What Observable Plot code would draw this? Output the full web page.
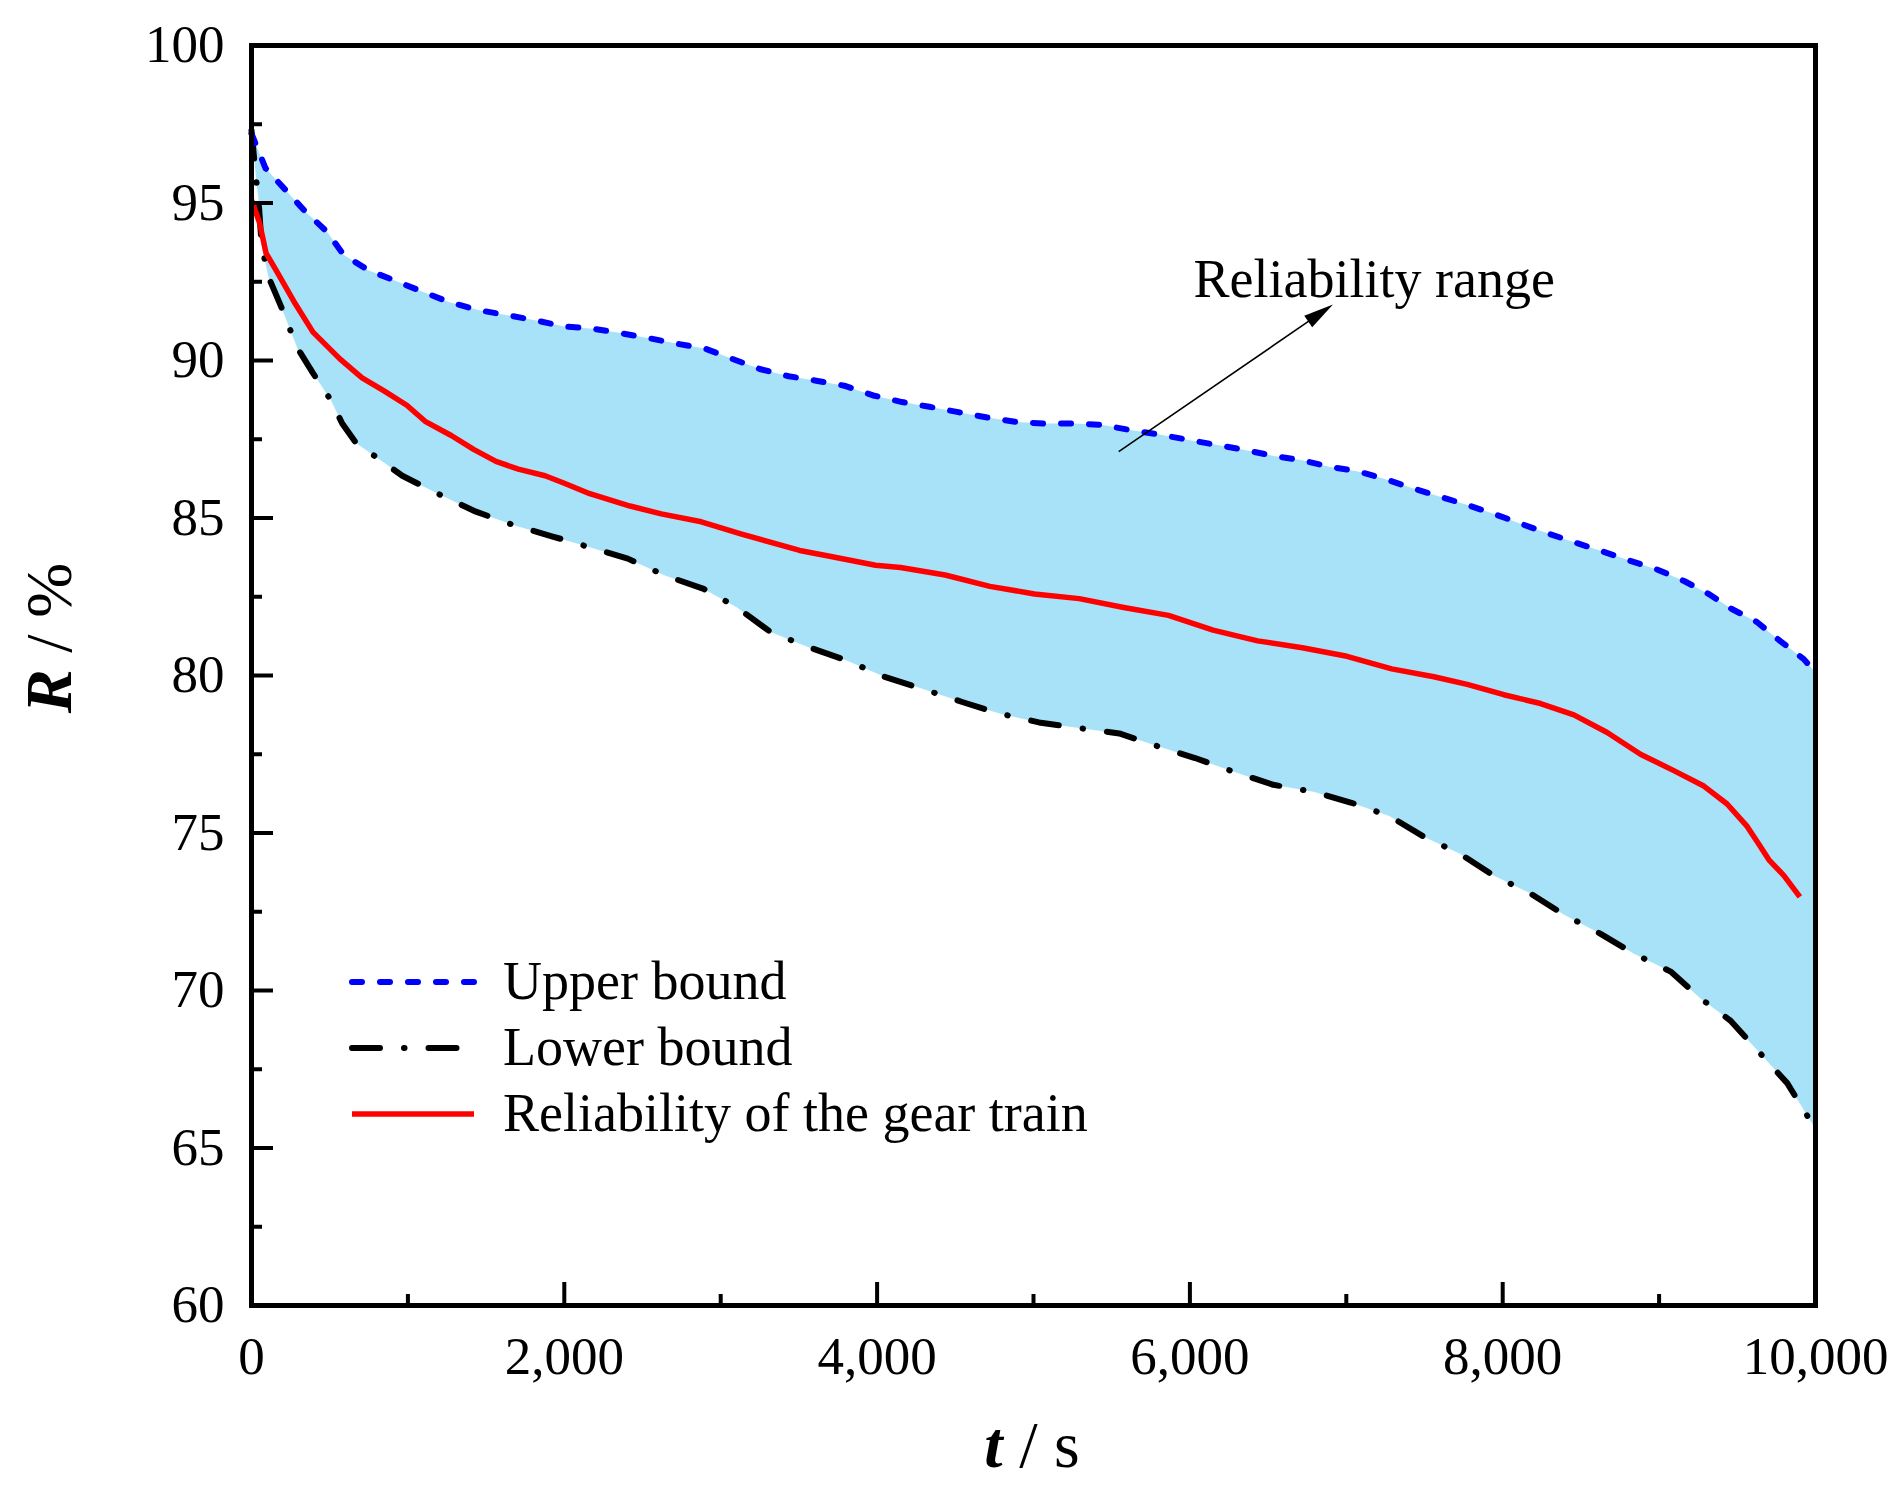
<!DOCTYPE html>
<html>
<head>
<meta charset="utf-8">
<script src="https://cdn.jsdelivr.net/npm/d3@7"></script>
<script src="https://cdn.jsdelivr.net/npm/@observablehq/plot@0.6"></script>
<style>
  body { margin: 0; background: #fff; }
  #chart svg { display: block; }
</style>
</head>
<body>
<div id="chart"></div>
<script>
// values (t in s, R in %)
const upperT = [0, 90, 220, 340, 480, 590, 750, 920, 1090, 1260, 1450, 1635, 1820, 2000, 2180, 2360, 2550, 2735, 2905, 3075,
  3250, 3435, 3620, 3790, 3975, 4160, 4335, 4520, 4705, 4890, 5065, 5250, 5435, 5620, 5805, 5990, 6160, 6350, 6535, 6720,
  6890, 7075, 7245, 7420, 7605, 7775, 7945, 8115, 8295, 8470, 8645, 8815, 8990, 9160, 9320, 9465, 9625, 9775, 9925, 10000];
const upperR = [97.2, 96.1, 95.4, 94.75, 94.1, 93.35, 92.86, 92.53, 92.19, 91.86, 91.6, 91.44, 91.27, 91.08, 91.01, 90.87, 90.7, 90.52, 90.37, 90.05,
  89.73, 89.5, 89.35, 89.2, 88.89, 88.68, 88.53, 88.36, 88.19, 88.05, 88.0, 88.0, 87.96, 87.79, 87.65, 87.48, 87.33, 87.16, 86.97, 86.83,
  86.63, 86.48, 86.24, 85.95, 85.67, 85.41, 85.13, 84.82, 84.5, 84.21, 83.93, 83.64, 83.36, 83.0, 82.58, 82.11, 81.7, 81.09, 80.52, 80.1];

const lowerT = [0, 28, 45, 65, 108, 190, 293, 393, 508, 580, 670, 822, 964, 1192, 1435, 1678, 1920, 2163, 2406, 2648,
  2891, 3105, 3319, 3562, 3805, 4047, 4275, 4549, 4778, 5035, 5292, 5548, 5791, 6033, 6276, 6533, 6790, 7033, 7275, 7489,
  7730, 7945, 8170, 8395, 8626, 8839, 9074, 9265, 9457, 9638, 9819, 10000];
const lowerR = [97.3, 95.84, 95.1, 93.65, 92.66, 91.7, 90.4, 89.6, 88.74, 88.0, 87.37, 86.85, 86.34, 85.77, 85.2, 84.77, 84.42, 84.07, 83.71, 83.17,
  82.75, 82.16, 81.38, 80.9, 80.48, 79.96, 79.6, 79.15, 78.8, 78.51, 78.33, 78.16, 77.76, 77.38, 76.95, 76.53, 76.31, 75.96, 75.54, 74.9,
  74.33, 73.64, 73.1, 72.4, 71.8, 71.17, 70.6, 69.75, 69.04, 68.05, 67.06, 65.6];

const relT = [0, 51, 93, 165, 280, 393, 565, 707, 850, 993, 1110, 1280, 1420, 1563, 1706, 1877, 1992, 2163, 2420, 2620,
  2876, 3134, 3505, 3705, 3990, 4150, 4435, 4721, 5006, 5292, 5577, 5863, 6148, 6433, 6719, 7004, 7290, 7560, 7773, 8007,
  8242, 8455, 8668, 8881, 9094, 9286, 9435, 9563, 9638, 9702, 9798, 9900];
const relR = [95.1, 94.38, 93.41, 92.8, 91.8, 90.9, 90.05, 89.45, 89.03, 88.58, 88.07, 87.61, 87.18, 86.8, 86.55, 86.34, 86.12, 85.77, 85.38, 85.13,
  84.88, 84.49, 83.97, 83.78, 83.5, 83.43, 83.19, 82.83, 82.59, 82.44, 82.16, 81.91, 81.44, 81.1, 80.88, 80.61, 80.21, 79.96, 79.72, 79.39,
  79.11, 78.75, 78.19, 77.5, 76.98, 76.49, 75.92, 75.21, 74.64, 74.15, 73.65, 72.97];

const xMajor = [0, 2000, 4000, 6000, 8000, 10000];
const xMinor = [1000, 3000, 5000, 7000, 9000];
const yMajor = [60, 65, 70, 75, 80, 85, 90, 95, 100];
const yMinor = [62.5, 67.5, 72.5, 77.5, 82.5, 87.5, 92.5, 97.5];

const legendLabels = ["Upper bound", "Lower bound", "Reliability of the gear train"];
const annotationLabel = "Reliability range";
const annotationAt = {t: 6023, r: 92.03};
const arrowFrom = {t: 5548, r: 87.09};
const arrowTo = {t: 6918, r: 91.76};

// layout
const W = 1895, H = 1499;
const mL = 251, mR = 80, mT = 45, mB = 194;
const plotW = W - mL - mR, plotH = H - mT - mB;
const font = "'Liberation Serif', 'Times New Roman', serif";

const toPoints = (ts, rs) => ts.map((t, i) => ({t, r: rs[i]}));
const upper = toPoints(upperT, upperR);
const lower = toPoints(lowerT, lowerR);
const rel = toPoints(relT, relR);
const band = upper.concat(lower.slice().reverse());

const styles = [
  {stroke: "#0000ff", strokeWidth: 6, strokeDasharray: "10,18", strokeLinecap: "round"},
  {stroke: "#000000", strokeWidth: 6, strokeDasharray: "28,24,0.5,24", strokeLinecap: "round"},
  {stroke: "#ff0000", strokeWidth: 5.5, strokeLinecap: "butt"}
];

const chart = Plot.plot({
  width: W,
  height: H,
  marginLeft: mL,
  marginRight: mR,
  marginTop: mT,
  marginBottom: mB,
  style: {fontFamily: font, background: "white", color: "black", overflow: "visible"},
  x: {domain: [0, 10000], axis: null},
  y: {domain: [60, 100], axis: null},
  marks: [
    Plot.line(band, {x: "t", y: "r", fill: "#a7e2f8", stroke: "none"}),
    Plot.line(lower, {x: "t", y: "r", ...styles[1], strokeLinejoin: "round"}),
    Plot.line(upper, {x: "t", y: "r", ...styles[0], strokeLinejoin: "round"}),
    Plot.line(rel, {x: "t", y: "r", ...styles[2], strokeLinejoin: "round"}),
    Plot.tickX(xMajor, {x: d => d, stroke: "black", strokeWidth: 4, insetTop: plotH - 23}),
    Plot.tickX(xMinor, {x: d => d, stroke: "black", strokeWidth: 4, insetTop: plotH - 11}),
    Plot.tickY(yMajor, {y: d => d, stroke: "black", strokeWidth: 4, insetRight: plotW - 22}),
    Plot.tickY(yMinor, {y: d => d, stroke: "black", strokeWidth: 4, insetRight: plotW - 11}),
    Plot.frame({stroke: "black", strokeWidth: 5}),
    Plot.text(xMajor, {x: d => d, frameAnchor: "bottom", lineAnchor: "top", dy: 31,
      text: d => d3.format(",")(d), fontSize: 53}),
    Plot.text(yMajor, {y: d => d, frameAnchor: "left", textAnchor: "end", dx: -27,
      text: d => String(d), fontSize: 53}),
    Plot.text([annotationAt], {x: "t", y: "r", text: () => annotationLabel, textAnchor: "start",
      lineAnchor: "bottom", fontSize: 54})
  ]
});

const svg = d3.select(chart);
const sx = chart.scale("x"), sy = chart.scale("y");

// arrow with a filled head
const x0 = sx.apply(arrowFrom.t), y0 = sy.apply(arrowFrom.r);
const x1 = sx.apply(arrowTo.t), y1 = sy.apply(arrowTo.r);
const len = Math.hypot(x1 - x0, y1 - y0);
const ux = (x1 - x0) / len, uy = (y1 - y0) / len;
const headL = 30, headW = 7;
const bx = x1 - ux * headL, by = y1 - uy * headL;
svg.append("line")
  .attr("x1", x0).attr("y1", y0).attr("x2", bx + ux * 2).attr("y2", by + uy * 2)
  .attr("stroke", "black").attr("stroke-width", 1.6);
svg.append("path")
  .attr("d", `M${x1},${y1}L${bx - uy * headW},${by + ux * headW}L${bx + uy * headW},${by - ux * headW}Z`)
  .attr("fill", "black");

// legend inside the plot
const legend = svg.append("g")
  .attr("font-family", font).attr("font-size", 54).attr("text-anchor", "start");
legendLabels.forEach((label, i) => {
  const y = 982 + i * 66;
  const s = styles[i];
  legend.append("line")
    .attr("x1", 352).attr("x2", 474).attr("y1", y).attr("y2", y)
    .attr("stroke", s.stroke).attr("stroke-width", s.strokeWidth)
    .attr("stroke-dasharray", s.strokeDasharray || null)
    .attr("stroke-linecap", s.strokeLinecap);
  legend.append("text")
    .attr("x", 503).attr("y", y).attr("dy", "0.31em")
    .attr("text-anchor", "start")
    .attr("fill", "black")
    .text(label);
});

// axis titles
const xt = svg.append("text")
  .attr("x", mL + plotW / 2 - 1).attr("y", 1467)
  .attr("text-anchor", "middle").attr("font-family", font).attr("font-size", 66)
  .style("white-space", "pre");
xt.append("tspan").attr("font-weight", "bold").attr("font-style", "italic").text("t");
xt.append("tspan").text(" / s");

const yt = svg.append("text")
  .attr("transform", "translate(71,638) rotate(-90)")
  .attr("text-anchor", "middle").attr("font-family", font).attr("font-size", 66)
  .style("white-space", "pre");
yt.append("tspan").attr("font-weight", "bold").attr("font-style", "italic").text("R");
yt.append("tspan").text(" / %");

d3.select("#chart").append(() => chart);
</script>
</body>
</html>
